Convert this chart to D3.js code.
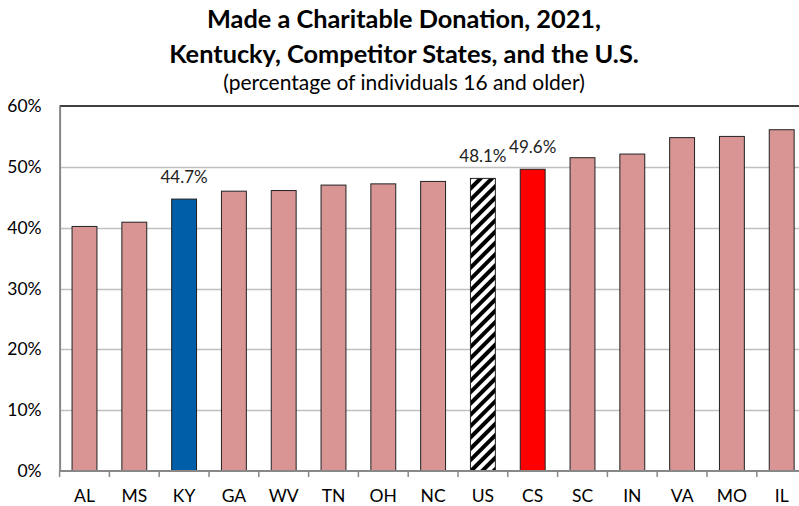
<!DOCTYPE html>
<html>
<head>
<meta charset="utf-8">
<script src="https://cdn.jsdelivr.net/npm/d3@7"></script>
<style>
    body { margin: 0; background: #fff; }
    svg { display: block; font-family: Lato, "Open Sans", sans-serif; }
</style>
</head>
<body>
<div id="chart"></div>
<script>
    // Chart data
    var states = ["AL", "MS", "KY", "GA", "WV", "TN", "OH", "NC", "US", "CS", "SC", "IN", "VA", "MO", "IL"];
    var values = [40.2, 40.9, 44.7, 46.0, 46.1, 47.0, 47.2, 47.6, 48.1, 49.6, 51.5, 52.1, 54.8, 55.0, 56.1];
    var labelled = ["KY", "US", "CS"];
    var yTicks = [0, 10, 20, 30, 40, 50, 60];
    var titleLines = ["Made a Charitable Donation, 2021,", "Kentucky, Competitor States, and the U.S."];
    var subtitle = "(percentage of individuals 16 and older)";

    var W = 799, H = 506;
    var plot = { left: 59.6, right: 806.6, top: 106, bottom: 471 };

    var svg = d3.select("#chart").append("svg")
        .attr("width", W)
        .attr("height", H);

    // stripes for the U.S. bar
    var pat = svg.append("defs").append("pattern")
        .attr("id", "stripes")
        .attr("patternUnits", "userSpaceOnUse")
        .attr("width", 8).attr("height", 8)
        .attr("patternTransform", "rotate(45)");
    pat.append("rect").attr("width", 8).attr("height", 8).attr("fill", "#fff");
    pat.append("rect").attr("width", 4).attr("height", 8).attr("fill", "#000");

    var x = d3.scaleBand()
        .domain(states)
        .range([plot.left, plot.right])
        .paddingInner(0.5)
        .paddingOuter(0.25);
    var xStep = d3.scaleBand().domain(states).range([plot.left, plot.right]);

    var y = d3.scaleLinear()
        .domain([0, 60])
        .range([plot.bottom, plot.top]);

    // Title
    var title = svg.append("g").attr("text-anchor", "middle");
    title.selectAll(".title-line")
        .data(titleLines)
        .enter().append("text")
        .attr("class", "title-line")
        .attr("x", 404)
        .attr("y", function(d, i) { return 28 + i * 35; })
        .attr("font-size", "25.3px")
        .attr("font-weight", "bold")
        .attr("fill", "#000")
        .text(function(d) { return d; });
    title.append("text")
        .attr("x", 404)
        .attr("y", 90)
        .attr("font-size", "21px")
        .attr("fill", "#000")
        .text(subtitle);

    // Gridlines
    svg.append("g")
        .selectAll("line")
        .data(yTicks.filter(function(d) { return d > 0 && d < 60; }))
        .enter().append("line")
        .attr("x1", plot.left).attr("x2", W)
        .attr("y1", function(d) { return Math.round(y(d)) + 0.5; })
        .attr("y2", function(d) { return Math.round(y(d)) + 0.5; })
        .attr("stroke", "#c0c0c0")
        .attr("stroke-width", 1.5);

    // top border
    svg.append("line")
        .attr("x1", plot.left).attr("x2", W)
        .attr("y1", y(60)).attr("y2", y(60))
        .attr("stroke", "#000").attr("stroke-width", 1.5);

    // Bars
    var colorFor = function(s) {
        if (s === "KY") return "#005ea8";
        if (s === "CS") return "#ff0000";
        if (s === "US") return "url(#stripes)";
        return "#d99594";
    };
    svg.append("g")
        .selectAll("rect")
        .data(states)
        .enter().append("rect")
        .attr("x", function(d) { return x(d); })
        .attr("y", function(d, i) { return y(values[i]); })
        .attr("width", x.bandwidth())
        .attr("height", function(d, i) { return y(0) - y(values[i]); })
        .attr("fill", colorFor)
        .attr("stroke", "#222")
        .attr("stroke-width", 1);

    // Value labels
    svg.append("g")
        .selectAll("text")
        .data(states.filter(function(s) { return labelled.indexOf(s) >= 0; }))
        .enter().append("text")
        .attr("x", function(d) { return x(d) + x.bandwidth() / 2; })
        .attr("y", function(d) { return y(values[states.indexOf(d)]) - 16; })
        .attr("text-anchor", "middle")
        .attr("font-size", "17px")
        .attr("fill", "#222")
        .text(function(d) { return values[states.indexOf(d)].toFixed(1) + "%"; });

    // Y axis
    var yAxis = svg.append("g")
        .attr("transform", "translate(" + plot.left + ",0)")
        .call(d3.axisLeft(y).tickValues(yTicks).tickSize(0).tickPadding(18)
            .tickFormat(function(d) { return d + "%"; }));
    yAxis.select(".domain").attr("stroke", "#888").attr("stroke-width", 2);
    yAxis.selectAll("text").attr("font-size", "17.5px").attr("fill", "#000")
        .attr("font-family", "Lato, sans-serif");

    // X axis
    var xAxis = svg.append("g")
        .attr("transform", "translate(0," + plot.bottom + ")")
        .call(d3.axisBottom(x).tickSize(0).tickPadding(19));
    xAxis.select(".domain").remove();
    xAxis.selectAll("text").attr("font-size", "17.5px").attr("fill", "#000")
        .attr("font-family", "Lato, sans-serif");

    svg.append("line")
        .attr("x1", plot.left).attr("x2", W)
        .attr("y1", plot.bottom).attr("y2", plot.bottom)
        .attr("stroke", "#888").attr("stroke-width", 2);
    svg.append("g")
        .selectAll("line")
        .data(states)
        .enter().append("line")
        .attr("x1", function(d) { return xStep(d); })
        .attr("x2", function(d) { return xStep(d); })
        .attr("y1", plot.bottom).attr("y2", plot.bottom + 6)
        .attr("stroke", "#888").attr("stroke-width", 1.5);
</script>
</body>
</html>
